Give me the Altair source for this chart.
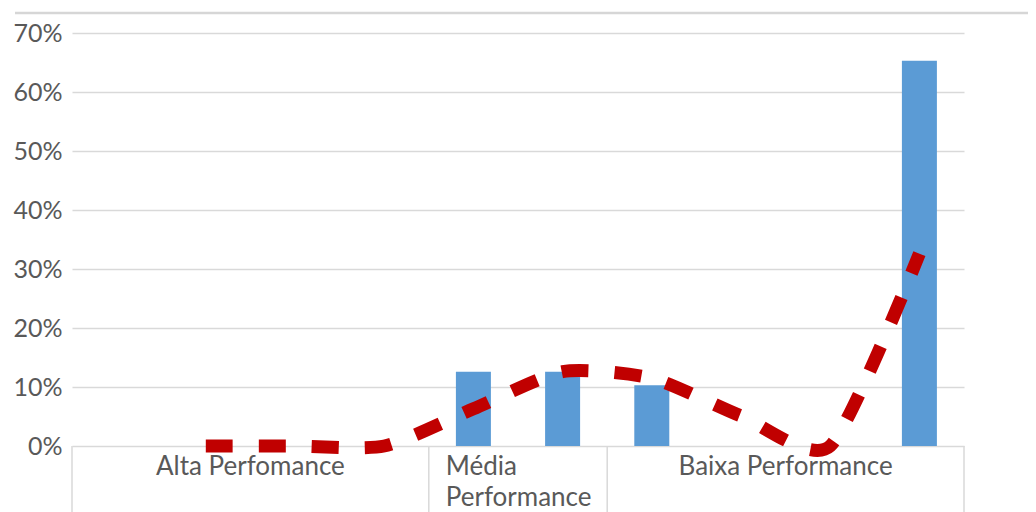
import altair as alt
import pandas as pd

# ---- data ----
slots = [1, 2, 3, 4, 5, 6, 7, 8, 9, 10]
bar_values = [None, None, None, None, 0.126, 0.126, 0.103, None, None, 0.653]
trend_values = [None, 0.0, 0.0, 0.0, 0.063, 0.126, 0.115, 0.051, 0.0, 0.326]
group_names = ["Alta Perfomance", "Média Performance", "Baixa Performance"]
group_edges = [0, 4, 6, 10]
y_ticks = [0, 0.1, 0.2, 0.3, 0.4, 0.5, 0.6, 0.7]

W, H = 892, 413
FONT = "Lato"
GRAY = "#595959"
GRID = "#d9d9d9"

df = pd.DataFrame({
    "slot": slots,
    "pos": [s - 0.5 for s in slots],
    "bar": bar_values,
    "trend": trend_values,
})
bars_df = df.dropna(subset=["bar"])
trend_df = df.dropna(subset=["trend"])

xs = alt.Scale(domain=[0, 10], nice=False, zero=False, padding=0)
ys = alt.Scale(domain=[0, 0.7], nice=False)

bars = alt.Chart(bars_df).mark_bar(size=35, color="#5B9BD5").encode(
    x=alt.X("pos:Q", scale=xs, axis=None),
    y=alt.Y("bar:Q", scale=ys,
            axis=alt.Axis(values=y_ticks, format=".0%", title=None,
                          domain=False, ticks=False, grid=True,
                          gridColor=GRID, gridWidth=1.5,
                          labelColor=GRAY, labelFont=FONT, labelFontSize=25,
                          labelPadding=10)),
)

trend = alt.Chart(trend_df).mark_line(
    color="#C00000", strokeWidth=13, strokeDash=[27, 26],
    strokeCap="butt", interpolate="cardinal", tension=0.35
).encode(
    x=alt.X("pos:Q", scale=xs),
    y=alt.Y("trend:Q", scale=ys),
)

edges_df = pd.DataFrame({"edge": group_edges})
edges = alt.Chart(edges_df).mark_rule(color=GRID, strokeWidth=1.5).encode(
    x=alt.X("edge:Q", scale=xs),
    y=alt.value(H),
    y2=alt.value(H + 75),
)

labels_df = pd.DataFrame({
    "name": group_names,
    "start": group_edges[:-1],
    "end": group_edges[1:],
})
labels_df["center"] = (labels_df["start"] + labels_df["end"]) / 2

side_labels = alt.Chart(labels_df[labels_df["end"] - labels_df["start"] > 2]).mark_text(
    font=FONT, fontSize=26, color=GRAY, align="center", baseline="middle"
).encode(
    x=alt.X("center:Q", scale=xs),
    y=alt.value(H + 21),
    text="name:N",
)

mid_labels = alt.Chart(labels_df[labels_df["end"] - labels_df["start"] <= 2]).mark_text(
    font=FONT, fontSize=26, color=GRAY, align="left", baseline="middle",
    lineBreak=" ", lineHeight=31, dx=17
).encode(
    x=alt.X("start:Q", scale=xs),
    y=alt.value(H + 21),
    text="name:N",
)

top_border = alt.Chart(edges_df.head(1)).mark_rule(color="#d6d6d6", strokeWidth=2.5).encode(
    x=alt.value(-57), x2=alt.value(W + 64), y=alt.value(-20)
)

chart = alt.layer(top_border, bars, trend, edges, side_labels, mid_labels).properties(
    width=W, height=H,
    background="white",
    autosize=alt.AutoSizeParams(type="none"),
    padding={"left": 64, "top": 25, "right": 64, "bottom": 66},
).configure_view(stroke=None)

chart.save("out.html", embed_options={"renderer": "svg", "actions": False})
